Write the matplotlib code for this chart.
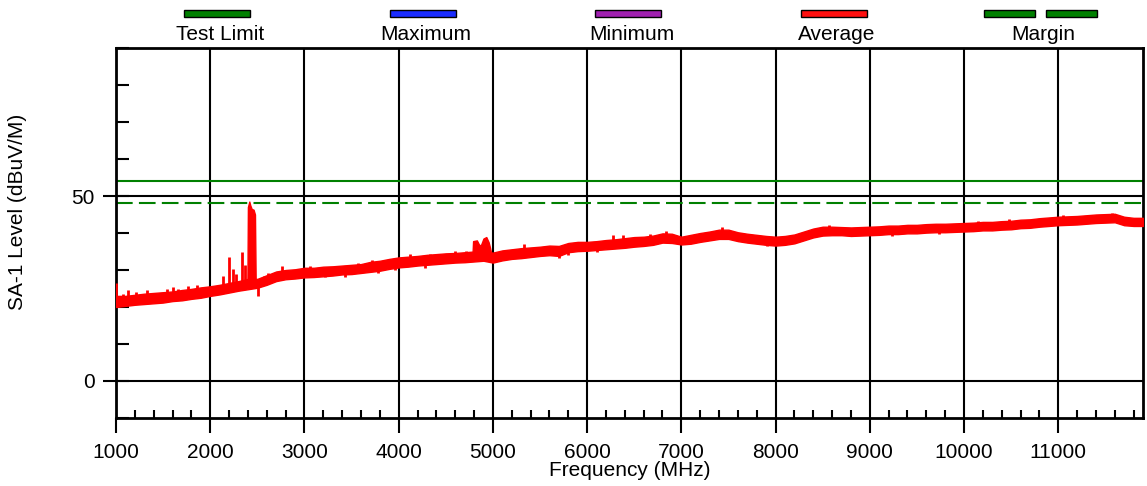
import numpy as np
import matplotlib
matplotlib.use("Agg")
import matplotlib.pyplot as plt
from matplotlib.ticker import MultipleLocator, FixedLocator
from matplotlib.patches import Rectangle

plt.rcParams['font.family'] = ['Liberation Sans', 'DejaVu Sans']

# ---------------- data ----------------
test_limit = 54.0
margin_limit = 48.0

freq_mhz = [1000, 1100, 1200, 1300, 1400, 1500, 1600, 1700, 1800, 1900,
            2000, 2100, 2200, 2300, 2400, 2500, 2600, 2700, 2800, 2900,
            3000, 3100, 3200, 3300, 3400, 3500, 3600, 3700, 3800, 3900,
            4000, 4100, 4200, 4300, 4400, 4500, 4600, 4700, 4800, 4900,
            5000, 5100, 5200, 5300, 5400, 5500, 5600, 5700, 5800, 5900,
            6000, 6100, 6200, 6300, 6400, 6500, 6600, 6700, 6800, 6900,
            7000, 7100, 7200, 7300, 7400, 7500, 7600, 7700, 7800, 7900,
            8000, 8100, 8200, 8300, 8400, 8500, 8600, 8700, 8800, 8900,
            9000, 9100, 9200, 9300, 9400, 9500, 9600, 9700, 9800, 9900,
            10000, 10100, 10200, 10300, 10400, 10500, 10600, 10700, 10800, 10900,
            11000, 11100, 11200, 11300, 11400, 11500, 11600, 11700, 11800, 11900]

avg_low = [20.0, 20.3, 20.6, 20.8, 21.0, 21.2, 21.6, 21.8, 22.2, 22.5,
           23.0, 23.4, 23.9, 24.4, 24.8, 25.2, 26.0, 27.0, 27.5, 27.7,
           28.0, 28.1, 28.3, 28.5, 28.8, 28.9, 29.2, 29.5, 29.8, 30.3,
           30.7, 30.9, 31.2, 31.4, 31.6, 31.8, 32.0, 32.1, 32.3, 32.5,
           32.0, 32.6, 33.0, 33.2, 33.5, 33.8, 34.0, 33.8, 34.8, 35.1,
           35.2, 35.4, 35.6, 35.8, 36.0, 36.3, 36.5, 36.8, 37.4, 37.3,
           36.9, 37.1, 37.6, 38.0, 38.4, 38.4, 37.8, 37.4, 37.1, 36.8,
           36.6, 36.8, 37.2, 38.0, 38.8, 39.3, 39.4, 39.4, 39.2, 39.3,
           39.4, 39.5, 39.7, 39.7, 39.9, 39.9, 40.1, 40.2, 40.2, 40.3,
           40.4, 40.5, 40.7, 40.7, 40.9, 41.0, 41.3, 41.4, 41.7, 41.9,
           42.1, 42.2, 42.3, 42.5, 42.7, 42.8, 42.9, 42.1, 41.9, 41.9]

avg_high = [23.0, 23.0, 23.3, 23.6, 23.8, 24.0, 24.2, 24.6, 24.9, 25.3,
            25.6, 26.0, 26.5, 27.0, 27.6, 27.6, 28.6, 29.6, 30.0, 30.2,
            30.6, 30.6, 30.9, 31.0, 31.2, 31.4, 31.6, 32.2, 32.5, 33.0,
            33.4, 33.6, 33.8, 34.1, 34.3, 34.5, 34.6, 34.8, 35.0, 35.0,
            34.7, 35.3, 35.6, 35.9, 36.1, 36.3, 36.6, 36.5, 37.3, 37.6,
            37.6, 37.8, 38.1, 38.3, 38.6, 38.9, 39.0, 39.3, 39.9, 39.8,
            39.0, 39.5, 40.0, 40.4, 40.9, 40.9, 40.2, 39.8, 39.5, 39.2,
            39.0, 39.2, 39.6, 40.4, 41.2, 41.7, 41.7, 41.6, 41.5, 41.6,
            41.7, 41.8, 42.0, 42.0, 42.2, 42.2, 42.4, 42.5, 42.5, 42.6,
            42.7, 42.8, 43.0, 43.0, 43.2, 43.3, 43.6, 43.7, 44.0, 44.2,
            44.4, 44.5, 44.6, 44.8, 45.0, 45.1, 45.2, 44.4, 44.1, 44.1]

# narrow spikes / noise excursions (frequency, base level, tip level)
spike_freq = [1000, 1075, 1130, 1210, 1330, 1540, 1600, 1660, 1760, 1860,
              2140, 2200, 2240, 2270, 2340, 2370, 2510, 2570, 2610, 2760,
              3060, 3220, 3430, 3570, 3720, 3780, 3960, 4120, 4280, 4330,
              4600, 4720, 5330, 5700, 5800, 6100, 6270, 6380, 6670, 6840,
              7430, 7910, 8570, 9240, 9730, 10150, 10480, 11050, 11570]
spike_base = [21.0, 21.5, 21.5, 21.8, 22.2, 22.5, 22.8, 23.0, 23.5, 24.0,
              25.0, 25.3, 25.5, 25.6, 26.0, 26.1, 25.5, 26.0, 27.0, 29.0,
              29.5, 29.8, 30.0, 30.5, 31.0, 31.0, 31.5, 32.5, 32.8, 32.8,
              33.3, 33.5, 34.6, 35.0, 35.5, 36.4, 37.0, 37.5, 38.0, 38.7,
              39.8, 38.0, 40.5, 40.8, 41.2, 41.7, 42.2, 43.2, 44.0]
spike_peak = [26.4, 23.6, 24.5, 24.1, 24.6, 25.0, 25.3, 25.0, 25.8, 26.0,
              28.5, 33.4, 30.4, 29.0, 35.0, 31.3, 23.1, 28.5, 29.2, 31.0,
              31.2, 28.0, 28.2, 31.9, 32.8, 29.3, 29.9, 34.2, 30.6, 34.4,
              35.2, 35.2, 37.0, 33.3, 34.0, 35.0, 39.4, 39.5, 39.6, 40.6,
              41.7, 36.6, 42.2, 39.3, 39.8, 43.3, 43.8, 44.9, 45.4]

# burst near 2.4 GHz
burst1_freq = [2395, 2400, 2415, 2425, 2440, 2460, 2475, 2482]
burst1_low = [26.0, 26.0, 26.0, 26.0, 26.0, 26.0, 26.0, 26.0]
burst1_high = [27.0, 47.0, 48.5, 47.5, 46.5, 46.3, 45.0, 28.0]

# burst near 4.9 GHz
burst2_freq = [4785, 4790, 4830, 4850, 4870, 4900, 4930, 4955, 4970, 4978]
burst2_low = [33.0, 33.0, 33.0, 33.0, 33.0, 33.0, 33.0, 33.0, 33.0, 33.0]
burst2_high = [35.0, 37.8, 38.0, 37.0, 36.5, 38.5, 38.9, 37.5, 36.0, 35.0]

legend_labels = ['Test Limit', 'Maximum', 'Minimum', 'Average', 'Margin']
legend_colors = ['#008000', '#1a2cff', '#a020b0', '#ff1010', '#008000']

# ---------------- figure ----------------
W, H = 1147, 486
FS = 15
fig = plt.figure(figsize=(W / 100, H / 100), dpi=100)
ax = fig.add_axes([116 / W, 1 - 418 / H, (1143 - 116) / W, (418 - 48) / H])

red = '#ff0000'
ax.fill_between(freq_mhz, avg_low, avg_high, color=red, lw=1.0, edgecolor=red, zorder=3)
ax.fill_between(burst1_freq, burst1_low, burst1_high, color=red, lw=1.0, edgecolor=red, zorder=3)
ax.fill_between(burst2_freq, burst2_low, burst2_high, color=red, lw=1.0, edgecolor=red, zorder=3)
ax.vlines(spike_freq, spike_base, spike_peak, color=red, lw=2.0, zorder=3)

ax.axhline(test_limit, color='#008000', lw=1.5, zorder=2)
ax.axhline(margin_limit, color='#008000', lw=1.5, ls=(0, (8, 3)), zorder=2)

ax.set_xlim(1000, 11900)
ax.set_ylim(-10, 90)

ax.xaxis.set_major_locator(MultipleLocator(1000))
ax.xaxis.set_minor_locator(MultipleLocator(200))
ax.yaxis.set_major_locator(FixedLocator([0, 50]))
ax.yaxis.set_minor_locator(MultipleLocator(10))

ax.set_axisbelow(True)
ax.grid(True, which='major', color='black', lw=1.5)

ax.tick_params(axis='x', which='major', direction='out', length=11, width=1.5,
               pad=7, labelsize=FS, color='black')
ax.tick_params(axis='x', which='minor', direction='in', length=6, width=1.5)
ax.tick_params(axis='y', which='major', direction='inout', length=19, width=1.5,
               pad=6, labelsize=FS)
ax.tick_params(axis='y', which='minor', direction='in', length=9.5, width=1.5)

for s in ax.spines.values():
    s.set_linewidth(2.0)
    s.set_color('black')

ax.set_xlabel('Frequency (MHz)', fontsize=FS)
ax.set_ylabel('SA-1 Level (dBuV/M)', fontsize=FS)
ax.yaxis.set_label_coords((27 - 116) / (1143 - 116), (418 - 212) / (418 - 48))
ax.xaxis.set_label_coords(0.5, -(461 - 418) / (418 - 48))

# ---------------- legend (swatch above label) ----------------
sw_w, sw_h = 66, 7
for i, (lab, col) in enumerate(zip(legend_labels, legend_colors)):
    cx = 217 + 205.7 * i
    if lab == 'Margin':
        for x0 in (984, 1046):
            fig.add_artist(Rectangle((x0 / W, 1 - 17 / H), 51 / W, sw_h / H,
                                     transform=fig.transFigure, facecolor=col,
                                     edgecolor='black', lw=1.0))
    else:
        fig.add_artist(Rectangle(((cx - sw_w / 2) / W, 1 - 17 / H), sw_w / W, sw_h / H,
                                 transform=fig.transFigure, facecolor=col,
                                 edgecolor='black', lw=1.0))
    fig.text((cx + 3) / W, 1 - 34 / H, lab, ha='center', va='center', fontsize=FS)

fig.savefig('out.png', dpi=100)
